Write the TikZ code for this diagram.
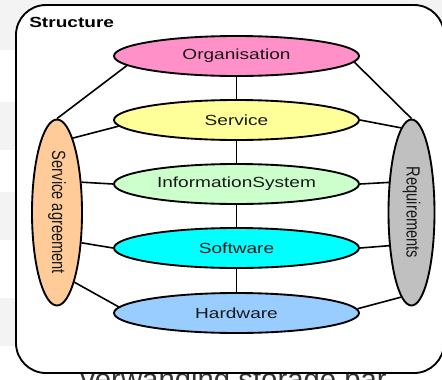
\documentclass[tikz,border=0pt]{standalone}
\usepackage{fontspec}
\setmainfont[FakeStretch=1.3]{Liberation Sans}
\newfontfamily\narrowfont{Liberation Sans}
\usetikzlibrary{shapes.geometric}

\definecolor{orgpink}{HTML}{FF90C8}
\definecolor{srvyellow}{HTML}{FFFF99}
\definecolor{infogreen}{HTML}{CCFFCC}
\definecolor{softcyan}{HTML}{00FFFF}
\definecolor{hardblue}{HTML}{99CCFF}
\definecolor{agreeorange}{HTML}{FFCC99}
\definecolor{reqgrey}{HTML}{C0C0C0}
\definecolor{pagegrey}{HTML}{F3F3F3}

\tikzset{
    layer/.style={ellipse, draw, line width=1.4pt, inner sep=0pt,
        minimum width=183.75pt, minimum height=30pt, text=black!90,
        font=\fontsize{11}{13}\selectfont},
    side/.style={ellipse, draw, line width=1.4pt, inner sep=0pt,
        minimum width=36pt, minimum height=139.5pt, text=black!90,
        font=\narrowfont\fontsize{11}{13}\selectfont},
    link/.style={line width=1.2pt}
}

\newcommand{\sidetext}[1]{\rotatebox{-90}{\scalebox{1}[1.3]{#1}}}

\begin{document}
\begin{tikzpicture}[x=0.75pt,y=-0.75pt]
                \clip (0,0) rectangle (442,379);
                \fill [white] (0,0) rectangle (442,379);
                % page behind the picture
                \foreach \top/\bot in {0/50,102/150,192/240,298/346}{
                    \fill [pagegrey] (0,\top) rectangle (442,\bot);
                }
                \node [anchor=base west, text=black!80, inner sep=0pt,
                    font=\narrowfont\fontsize{22}{24}\selectfont] (caption) at (80,389) {verwanding storage bar};

                % frame
                \draw [line width=1.4pt, rounded corners=22.5pt, fill=white] (16,5) rectangle (444,373);
                \node [anchor=west, inner sep=0pt, font=\bfseries\fontsize{11}{13}\selectfont] (title) at (29,22) {Structure};

                % layers
                \node [layer, fill=orgpink] (org) at (236.5,56) {Organisation};
                \node [layer, fill=srvyellow] (srv) at (236.5,120) {Service};
                \node [layer, fill=infogreen] (info) at (236.5,184) {InformationSystem};
                \node [layer, fill=softcyan] (soft) at (236.5,248) {Software};
                \node [layer, fill=hardblue] (hard) at (236.5,313) {Hardware};

                % sides
                \node [side, minimum width=37.5pt, fill=agreeorange] (agree) at (57,212.5) {\sidetext{Service agreement}};
                \node [side, minimum width=34.5pt, fill=reqgrey] (req) at (411.5,212.5) {\sidetext{Requirements}};

                % links
                \draw [link] (org) -- (srv);
                \draw [link] (srv) -- (info);
                \draw [link] (info) -- (soft);
                \draw [link] (soft) -- (hard);

                \draw [link] (agree.north) -- (org.185);
                \draw [link] (agree.78) -- (srv.183);
                \draw [link] (agree.51) -- (info.west);
                \draw [link] (agree.-51) -- (soft.west);
                \draw [link] (agree.-76) -- (hard.177);

                \draw [link] (org.357) -- (req.north);
                \draw [link] (srv.east) -- (req.97);
                \draw [link] (info.east) -- (req.127);
                \draw [link] (soft.east) -- (req.236);
                \draw [link] (hard.2) -- (req.263);
            \end{tikzpicture}
\end{document}
